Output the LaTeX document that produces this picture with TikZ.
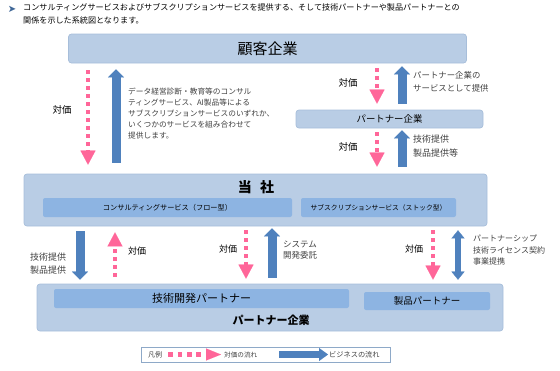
\documentclass[tikz,border=0pt]{standalone}
\usepackage{fontspec}
\setmainfont{Noto Sans CJK JP}
\newfontfamily\symfont{DejaVu Sans}
\usetikzlibrary{arrows.meta,positioning}

\definecolor{boxblue}{HTML}{B9CDE5}
\definecolor{boxedge}{HTML}{A7BEDA}
\definecolor{innerblue}{HTML}{8DB4E2}
\definecolor{flowblue}{HTML}{4F81BD}
\definecolor{paypink}{HTML}{FF6699}
\definecolor{notegrey}{HTML}{404040}
\definecolor{legendedge}{HTML}{8EA9C8}

\begin{document}
\begin{tikzpicture}[x=1pt, y=-1pt,
    bigbox/.style={draw=boxedge, fill=boxblue, rounded corners=3pt, line width=0.7pt, inner sep=0pt},
    subbox/.style={fill=innerblue, rounded corners=2pt, inner sep=0pt},
    pay/.style={draw=paypink, line width=4.5pt, dash pattern=on 4pt off 4pt, -{Triangle[length=14pt, width=15pt, line width=0.1pt]}},
    biz/.style={draw=flowblue, line width=9pt, -{Triangle[length=8pt, width=16pt, line width=0.1pt]}},
    bizboth/.style={draw=flowblue, line width=6pt, {Triangle[length=8pt, width=13pt, line width=0.1pt]}-{Triangle[length=8pt, width=13pt, line width=0.1pt]}},
    note/.style={font=\fontsize{8}{11.5}\selectfont, text=notegrey, align=left, inner sep=0pt, anchor=north west},
    lbl/.style={font=\fontsize{9}{11}\selectfont, inner sep=0pt}
]
\useasboundingbox (0,0) rectangle (560,370);

% heading
\node[inner sep=0pt, text=flowblue!80!black, font=\fontsize{10}{10}\selectfont] (bullet) at (12,9) {\symfont ➤};
\node[inner sep=0pt, anchor=north west, align=left, font=\fontsize{8.1}{13}\selectfont] (heading) at (23,3)
  {コンサルティングサービスおよびサブスクリプションサービスを提供する、そして技術パートナーや製品パートナーとの\\関係を示した系統図となります。};

% boxes
\node[bigbox, minimum width=398pt, minimum height=29pt, font=\fontsize{15}{15}\selectfont] (cust) at (267.5,48.5) {顧客企業};
\node[bigbox, minimum width=187pt, minimum height=18pt, font=\fontsize{9.4}{10}\selectfont] (ptop) at (389.5,119) {パートナー企業};

\node[bigbox, minimum width=463pt, minimum height=52pt] (tosha) at (255.5,200) {};
\node[inner sep=0pt, font=\fontsize{14}{14}\selectfont\bfseries] (toshatxt) at (256,187) {当\hspace{0.6em}社};
\node[subbox, minimum width=249pt, minimum height=19pt, font=\fontsize{7.2}{8}\selectfont] (consult) at (167.5,207.5) {コンサルティングサービス（フロー型）};
\node[subbox, minimum width=155pt, minimum height=19pt, font=\fontsize{6.8}{8}\selectfont] (subsc) at (378.5,207.5) {サブスクリプションサービス（ストック型）};

\node[bigbox, minimum width=466pt, minimum height=47pt] (pbot) at (270,307.5) {};
\node[subbox, minimum width=295pt, minimum height=19pt, font=\fontsize{11}{11}\selectfont] (devp) at (201.5,298.5) {技術開発パートナー};
\node[subbox, minimum width=126pt, minimum height=18pt, font=\fontsize{9.5}{10}\selectfont] (prodp) at (427,301) {製品パートナー};
\node[inner sep=0pt, font=\fontsize{11}{11}\selectfont\bfseries] (pbottxt) at (271,320) {パートナー企業};

% customer <-> tosha
\draw[pay, shorten <=7pt, shorten >=9pt] (cust.south -| 88,0) -- (tosha.north -| 88,0);
\draw[biz, shorten <=11pt, shorten >=6pt] (tosha.north -| 116,0) -- (cust.south -| 116,0);
\node[lbl, font=\fontsize{9.5}{11}\selectfont] (pay1) at (62,110) {対価};
\node[note, font=\fontsize{7.7}{11}\selectfont] (svc) at (128,87.5)
  {データ経営診断・教育等のコンサル\\ティングサービス、AI製品等による\\サブスクリプションサービスのいずれか、\\いくつかのサービスを組み合わせて\\提供します。};

% customer <-> partner
\draw[pay, shorten <=5pt, shorten >=6pt] (cust.south -| 377,0) -- (ptop.north -| 377,0);
\draw[biz, shorten <=6pt, shorten >=3pt] (ptop.north -| 402,0) -- (cust.south -| 402,0);
\node[lbl, font=\fontsize{9.5}{11}\selectfont] (pay2) at (348,83) {対価};
\node[note, font=\fontsize{8.4}{12.5}\selectfont] (psvc) at (413,71.5) {パートナー企業の\\サービスとして提供};

% partner <-> tosha
\draw[pay, shorten <=4pt, shorten >=7pt] (ptop.south -| 377,0) -- (tosha.north -| 377,0);
\draw[biz, shorten <=7pt, shorten >=2pt] (tosha.north -| 402,0) -- (ptop.south -| 402,0);
\node[lbl, font=\fontsize{9.5}{11}\selectfont] (pay3) at (348,147) {対価};
\node[note, font=\fontsize{9}{14}\selectfont] (ptech) at (413,135) {技術提供\\製品提供等};

% tosha <-> partners below
\draw[biz, shorten <=5pt, shorten >=4pt] (tosha.south -| 80,0) -- (pbot.north -| 80,0);
\node[note, font=\fontsize{9}{13}\selectfont] (ttech) at (30,253) {技術提供\\製品提供};
\draw[pay, shorten <=7pt, shorten >=6pt] (pbot.north -| 115,0) -- (tosha.south -| 115,0);
\node[lbl] (pay4) at (137,251) {対価};

\draw[pay, shorten <=4pt, shorten >=5pt] (tosha.south -| 246,0) -- (pbot.north -| 246,0);
\node[lbl] (pay5) at (228,249) {対価};
\draw[biz, shorten <=6pt, shorten >=2pt] (pbot.north -| 272,0) -- (tosha.south -| 272,0);
\node[note, font=\fontsize{8.5}{11}\selectfont] (sysdev) at (283,241) {システム\\開発委託};

\draw[pay, shorten <=4pt, shorten >=4pt] (tosha.south -| 433,0) -- (pbot.north -| 433,0);
\node[lbl] (pay6) at (414,249) {対価};
\draw[bizboth, shorten <=4pt, shorten >=4pt] (tosha.south -| 458,0) -- (pbot.north -| 458,0);
\node[note, font=\fontsize{8}{11.7}\selectfont] (pship) at (473,234.5) {パートナーシップ\\技術ライセンス契約\\事業提携};

% legend
\node[draw=legendedge, line width=0.6pt, minimum width=249pt, minimum height=15pt, inner sep=0pt] (legend) at (265.5,354.5) {};
\node[inner sep=0pt, font=\fontsize{7}{8}\selectfont, text=notegrey] (key) at (155,354.5) {凡例};
\node[inner sep=0pt, font=\fontsize{6.6}{8}\selectfont, text=notegrey, anchor=west] (paytxt) at (224,354.5) {対価の流れ};
\node[inner sep=0pt, font=\fontsize{7.2}{8}\selectfont, text=notegrey, anchor=west] (biztxt) at (329,354.5) {ビジネスの流れ};
\draw[draw=paypink, line width=4.5pt, dash pattern=on 4.7pt off 4.7pt, -{Triangle[length=15pt, width=12pt, line width=0.1pt]}] ([xshift=6pt]key.east) -- ([xshift=-3pt]paytxt.west);
\draw[draw=flowblue, line width=7pt, -{Triangle[length=9pt, width=13pt, line width=0.1pt]}] ([xshift=22pt]paytxt.east) -- ([xshift=-1pt]biztxt.west);

\end{tikzpicture}
\end{document}
